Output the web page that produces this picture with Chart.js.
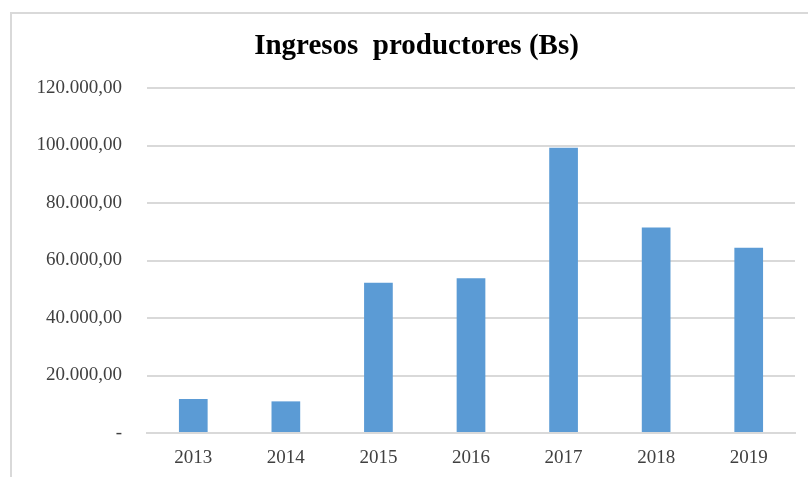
<!DOCTYPE html>
<html>
<head>
<meta charset="UTF-8">
<title>Ingresos productores</title>
<script src="https://cdn.jsdelivr.net/npm/chart.js@4.4.0/dist/chart.umd.min.js"></script>
<style>
  body { margin: 0; background: #fff; }
  #wrap { position: relative; width: 808px; height: 477px; overflow: hidden; }
  #frame { position: absolute; left: 10px; top: 12px; width: 900px; height: 600px;
           border-left: 2px solid #d9d9d9; border-top: 2px solid #d9d9d9; }
  canvas { position: absolute; left: 0; top: 0; }
</style>
</head>
<body>
<div id="wrap">
  <div id="frame"></div>
  <canvas id="myChart" width="808" height="477"></canvas>
</div>
<script>
// datos
var years = ['2013', '2014', '2015', '2016', '2017', '2018', '2019'];
var ingresos = [11800, 11000, 52300, 53800, 99200, 71500, 64400];
var yTicks = [0, 20000, 40000, 60000, 80000, 100000, 120000];

function fmt(v) {
  if (v === 0) return '-';
  var s = Math.round(v).toString();
  var out = '';
  while (s.length > 3) {
    out = '.' + s.slice(-3) + out;
    s = s.slice(0, -3);
  }
  return s + out + ',00';
}

var serif = "'Liberation Serif', 'DejaVu Serif', serif";

const data = {
  labels: years,
  datasets: [{
    label: 'Ingresos productores (Bs)',
    data: ingresos,
    backgroundColor: '#5b9bd5',
    borderWidth: 0,
    barPercentage: 0.62,
    categoryPercentage: 0.5
  }]
};

const config = {
  type: 'bar',
  data: data,
  options: {
    responsive: false,
    animation: false,
    layout: { padding: { left: 38, right: 13, top: 0, bottom: 0 } },
    plugins: {
      legend: { display: false },
      tooltip: { enabled: false },
      title: {
        display: true,
        text: 'Ingresos  productores (Bs)',
        color: '#000',
        font: { family: serif, size: 29, weight: 'bold' },
        padding: { top: 29, bottom: 24.2 }
      }
    },
    scales: {
      x: {
        grid: { display: false, drawTicks: false },
        border: { color: '#d9d9d9', width: 2 },
        ticks: { color: '#404040', font: { family: serif, size: 19 }, padding: 14 },
        afterFit: function(scale) { scale.height = 44; }
      },
      y: {
        min: 0,
        max: 120000,
        afterBuildTicks: function(scale) {
          scale.ticks = yTicks.map(function(v) { return { value: v }; });
        },
        grid: { color: '#d9d9d9', lineWidth: 2, drawTicks: false },
        border: { display: false },
        ticks: {
          color: '#404040',
          font: { family: serif, size: 19 },
          padding: 25,
          callback: function(v) { return fmt(v); }
        },
        afterFit: function(scale) { scale.width = 109; }
      }
    }
  }
};

let ctx = document.getElementById('myChart').getContext('2d');
const myChart = new Chart(ctx, config);
</script>
</body>
</html>
